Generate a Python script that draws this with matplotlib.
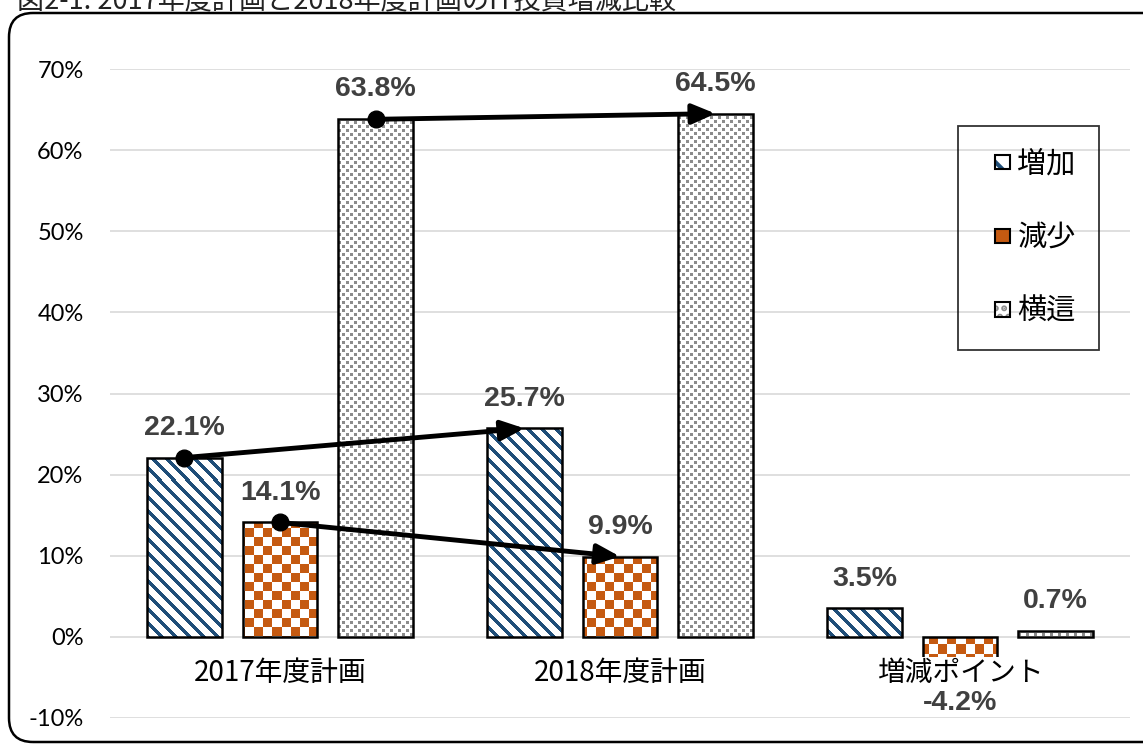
import numpy as np
import matplotlib.pyplot as plt
import matplotlib.patches as mpatches
import matplotlib.transforms as mtransforms
import matplotlib.colors as mcolors
from matplotlib.legend_handler import HandlerPatch, HandlerTuple
from matplotlib.ticker import FuncFormatter

# Data (percent)
title = "図2-1. 2017年度計画と2018年度計画のIT投資増減比較"
categories = ["2017年度計画", "2018年度計画", "増減ポイント"]
series = ["増加", "減少", "横這"]
increase = [22.1, 25.7, 3.5]
decrease = [14.1, 9.9, -4.2]
flat = [63.8, 64.5, 0.7]

BLUE = "#1F4E79"
ORANGE = "#C55A11"
GREY = "#8C8C8C"
LABEL_COLOR = "#404040"

plt.rcParams["font.family"] = ["Noto Sans CJK JP", "DejaVu Sans"]
plt.rcParams["hatch.linewidth"] = 3.0

FW, FH = 1143, 744
fig = plt.figure(figsize=(FW / 100, FH / 100), dpi=100)
AX_L, AX_T, AX_W, AX_H = 110, 69, 1020, 649
ax = fig.add_axes([AX_L / FW, 1 - (AX_T + AX_H) / FH, AX_W / FW, AX_H / FH])

# pixel fill patterns, one pixel per cell of the axes
rows, cols = np.mgrid[0:AX_H, 0:AX_W]


def pattern(mask, color):
    img = np.ones((AX_H, AX_W, 3))
    img[mask] = mcolors.to_rgb(color)
    return img


stripes = pattern((cols - rows) % 14 < 5, BLUE)
checker = pattern((rows // 9 + cols // 9) % 2 == 0, ORANGE)
dots = pattern(((rows % 8 < 3) & (cols % 8 < 3))
               | (((rows + 4) % 8 < 3) & ((cols + 4) % 8 < 3)), GREY)

x = np.arange(len(categories))
offset = 0.281
width = 0.218
groups = [(increase, -offset, stripes), (decrease, 0.0, checker), (flat, offset, dots)]

for vals, off, img in groups:
    bars = ax.bar(x + off, vals, width, facecolor="none", edgecolor="black",
                  lw=1.8, zorder=3)
    for b in bars:
        im = ax.imshow(img, extent=(0, 1, 0, 1), transform=ax.transAxes,
                       aspect="auto", interpolation="nearest", zorder=2)
        im.set_clip_path(b)
    for xi, v in zip(x + off, vals):
        dy = 21.5 if v >= 0 else -23
        ax.annotate(f"{v:.1f}%", (xi, v), xytext=(0, dy), textcoords="offset points",
                    ha="center", va="center", fontsize=20.5, fontweight="bold",
                    color=LABEL_COLOR, family="Liberation Sans", zorder=9)

# category names sit just under the zero line
for xi, c in zip(x, categories):
    ax.annotate(c, (xi, 0), xytext=(0, -26), textcoords="offset points",
                ha="center", va="center", fontsize=20, color="black", zorder=6,
                bbox=dict(facecolor="white", edgecolor="none", pad=1))

# change arrows from 2017 to 2018
for vals, off, _ in groups:
    ax.annotate("", xy=(1 + off, vals[1]), xytext=(0 + off, vals[0]),
                arrowprops=dict(arrowstyle="-|>,head_length=0.7,head_width=0.3",
                                mutation_scale=20, lw=3.5, color="black",
                                shrinkA=0, shrinkB=0), zorder=7)
    ax.plot(0 + off, vals[0], "o", ms=12, color="black", zorder=8)

ax.set_xlim(-0.5, 2.5)
ax.set_ylim(-10, 70)
ax.set_xticks([])
ax.set_yticks(range(-10, 71, 10))
ax.yaxis.set_major_formatter(FuncFormatter(lambda v, p: f"{v:.0f}%"))
ax.tick_params(axis="y", length=0, pad=19, labelsize=17)
for lab in ax.get_yticklabels():
    lab.set_fontfamily("Lato")
ax.yaxis.grid(True, color="#D9D9D9", lw=1.2)
ax.set_axisbelow(True)
for s in ax.spines.values():
    s.set_visible(False)


def square(legend, orig_handle, xdescent, ydescent, width, height, fontsize):
    s = 10.5
    return mpatches.Rectangle((width - s - xdescent, (height - s) / 2 - ydescent), s, s)


handles = [
    (mpatches.Patch(facecolor="white", edgecolor=BLUE, hatch="\\", lw=0),
     mpatches.Patch(facecolor="none", edgecolor="black", lw=1.5)),
    (mpatches.Patch(facecolor=ORANGE, edgecolor="none", lw=0),
     mpatches.Patch(facecolor="none", edgecolor="black", lw=1.5)),
    (mpatches.Patch(facecolor="white", edgecolor=GREY, hatch="..", lw=0),
     mpatches.Patch(facecolor="none", edgecolor="black", lw=1.5)),
]
leg = ax.legend(handles, series,
                handler_map={mpatches.Patch: HandlerPatch(patch_func=square),
                             tuple: HandlerTuple(ndivide=1, pad=0)},
                loc="upper right", bbox_to_anchor=(0.9696, 0.9122), borderaxespad=0,
                fontsize=21, borderpad=0.8, handlelength=0.95, handleheight=0.7,
                handletextpad=0.27, labelspacing=1.5, fancybox=False,
                edgecolor="black")
leg.get_frame().set_facecolor("none")
leg.get_frame().set_linewidth(1.3)

# rounded outer frame
border = mpatches.FancyBboxPatch((9, 2), 1160, 729,
                                 boxstyle="round,pad=0,rounding_size=24",
                                 transform=mtransforms.IdentityTransform(),
                                 facecolor="none", edgecolor="black", lw=1.8)
fig.add_artist(border)

fig.text(17 / FW, 1 - 9 / FH, title, va="baseline", ha="left", fontsize=19.5,
         color="#222222")

fig.savefig("out.png", dpi=100)
